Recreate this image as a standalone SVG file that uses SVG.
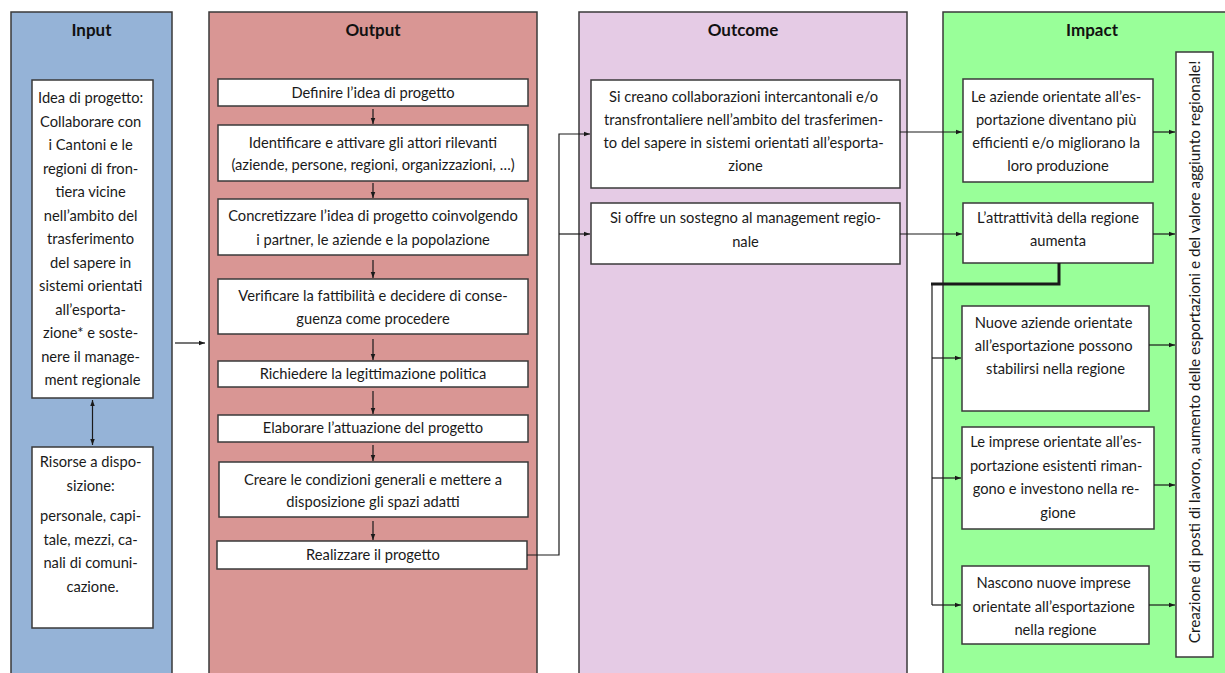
<svg xmlns="http://www.w3.org/2000/svg" width="1225" height="673" viewBox="0 0 1225 673">
  <style>
    .col { stroke: #3a3a3a; stroke-width: 1.5; }
    .box { fill: #ffffff; stroke: #3a3a3a; stroke-width: 1.5; }
    .t { font-family: Lato, "Liberation Sans", sans-serif; font-size: 14.7px; fill: #1a1a1a; text-anchor: middle; }
    .vt { font-size: 15.3px; }
    .title { font-family: Lato, "Liberation Sans", sans-serif; font-size: 17px; font-weight: bold; fill: #111111; text-anchor: middle; }
    .ln { fill: none; stroke: #1a1a1a; stroke-width: 1.2; }
    .thick { fill: none; stroke: #1a1a1a; stroke-width: 3; }
  </style>
  <defs>
    <marker id="ah" viewBox="0 0 8 8" refX="8" refY="4" markerWidth="6" markerHeight="6" markerUnits="userSpaceOnUse" orient="auto-start-reverse">
      <path d="M0,1 L8,4 L0,7 z" fill="#1a1a1a"/>
    </marker>
  </defs>

  <rect width="1225" height="673" fill="#ffffff"/>

  <!-- Column backgrounds -->
  <g id="col-input">
    <rect class="col" x="11" y="12" width="161" height="680" fill="#95b3d7"/>
    <text class="title" x="91.5" y="36">Input</text>
  </g>
  <g id="col-output">
    <rect class="col" x="209" y="12" width="328" height="680" fill="#d99694"/>
    <text class="title" x="373" y="36">Output</text>
  </g>
  <g id="col-outcome">
    <rect class="col" x="579" y="12" width="328" height="680" fill="#e5cbe5"/>
    <text class="title" x="743" y="36">Outcome</text>
  </g>
  <g id="col-impact">
    <rect class="col" x="943" y="12" width="300" height="680" fill="#99ff99"/>
    <text class="title" x="1092" y="36">Impact</text>
  </g>

  <!-- Input -->
  <g id="in-idea">
    <rect class="box" x="32" y="80" width="121" height="318"/>
    <text class="t">
      <tspan x="92.5" y="103">Idea di progetto:</tspan>
      <tspan x="92.5" y="126.5">Collaborare con</tspan>
      <tspan x="92.5" y="150">i Cantoni e le</tspan>
      <tspan x="92.5" y="173.5">regioni di fron-</tspan>
      <tspan x="92.5" y="197">tiera vicine</tspan>
      <tspan x="92.5" y="220.5">nell’ambito del</tspan>
      <tspan x="92.5" y="244">trasferimento</tspan>
      <tspan x="92.5" y="267.5">del sapere in</tspan>
      <tspan x="92.5" y="291">sistemi orientati</tspan>
      <tspan x="92.5" y="314.5">all’esporta-</tspan>
      <tspan x="92.5" y="338">zione* e soste-</tspan>
      <tspan x="92.5" y="361.5">nere il manage-</tspan>
      <tspan x="92.5" y="385">ment regionale</tspan>
    </text>
  </g>
  <g id="in-risorse">
    <rect class="box" x="32" y="447" width="121" height="181"/>
    <text class="t">
      <tspan x="92.5" y="467">Risorse a dispo-</tspan>
      <tspan x="92.5" y="490.5">sizione:</tspan>
      <tspan x="92.5" y="521">personale, capi-</tspan>
      <tspan x="92.5" y="544.5">tale, mezzi, ca-</tspan>
      <tspan x="92.5" y="568">nali di comuni-</tspan>
      <tspan x="92.5" y="591.5">cazione.</tspan>
    </text>
  </g>

  <!-- Output -->
  <g id="out-1">
    <rect class="box" x="218" y="79" width="310" height="27"/>
    <text class="t" x="373" y="97.5">Definire l’idea di progetto</text>
  </g>
  <g id="out-2">
    <rect class="box" x="218" y="125" width="310" height="56"/>
    <text class="t"><tspan x="373" y="148">Identificare e attivare gli attori rilevanti</tspan><tspan x="373" y="170">(aziende, persone, regioni, organizzazioni, …)</tspan></text>
  </g>
  <g id="out-3">
    <rect class="box" x="218" y="199" width="310" height="56"/>
    <text class="t"><tspan x="373" y="221">Concretizzare l’idea di progetto coinvolgendo</tspan><tspan x="373" y="245">i partner, le aziende e la popolazione</tspan></text>
  </g>
  <g id="out-4">
    <rect class="box" x="218" y="279" width="310" height="55"/>
    <text class="t"><tspan x="373" y="301">Verificare la fattibilità e decidere di conse-</tspan><tspan x="373" y="324">guenza come procedere</tspan></text>
  </g>
  <g id="out-5">
    <rect class="box" x="218" y="361" width="310" height="26"/>
    <text class="t" x="373" y="379">Richiedere la legittimazione politica</text>
  </g>
  <g id="out-6">
    <rect class="box" x="218" y="415" width="310" height="27"/>
    <text class="t" x="373" y="433">Elaborare l’attuazione del progetto</text>
  </g>
  <g id="out-7">
    <rect class="box" x="219" y="462" width="309" height="55"/>
    <text class="t"><tspan x="373" y="485">Creare le condizioni generali e mettere a</tspan><tspan x="373" y="507">disposizione gli spazi adatti</tspan></text>
  </g>
  <g id="out-8">
    <rect class="box" x="217" y="541" width="310" height="28"/>
    <text class="t" x="373" y="560">Realizzare il progetto</text>
  </g>

  <!-- Outcome -->
  <g id="oc-1">
    <rect class="box" x="591" y="80" width="309" height="108"/>
    <text class="t">
      <tspan x="745.5" y="102">Si creano collaborazioni intercantonali e/o</tspan>
      <tspan x="745.5" y="125">transfrontaliere nell’ambito del trasferimen-</tspan>
      <tspan x="745.5" y="148">to del sapere in sistemi orientati all’esporta-</tspan>
      <tspan x="745.5" y="171">zione</tspan>
    </text>
  </g>
  <g id="oc-2">
    <rect class="box" x="591" y="203" width="309" height="61"/>
    <text class="t"><tspan x="745.5" y="223">Si offre un sostegno al management regio-</tspan><tspan x="745.5" y="247">nale</tspan></text>
  </g>

  <!-- Impact -->
  <g id="im-1">
    <rect class="box" x="963" y="79" width="190" height="103"/>
    <text class="t">
      <tspan x="1058" y="102">Le aziende orientate all’es-</tspan>
      <tspan x="1058" y="125">portazione diventano più</tspan>
      <tspan x="1058" y="148">efficienti e/o migliorano la</tspan>
      <tspan x="1058" y="171">loro produzione</tspan>
    </text>
  </g>
  <g id="im-2">
    <rect class="box" x="963" y="203" width="190" height="60"/>
    <text class="t"><tspan x="1058" y="223">L’attrattività della regione</tspan><tspan x="1058" y="246">aumenta</tspan></text>
  </g>
  <g id="im-3">
    <rect class="box" x="962" y="306" width="187" height="105"/>
    <text class="t">
      <tspan x="1055.5" y="328">Nuove aziende orientate</tspan>
      <tspan x="1055.5" y="351">all’esportazione possono</tspan>
      <tspan x="1055.5" y="374">stabilirsi nella regione</tspan>
    </text>
  </g>
  <g id="im-4">
    <rect class="box" x="962" y="427" width="192" height="102"/>
    <text class="t">
      <tspan x="1058" y="447">Le imprese orientate all’es-</tspan>
      <tspan x="1058" y="470.5">portazione esistenti riman-</tspan>
      <tspan x="1058" y="494">gono e investono nella re-</tspan>
      <tspan x="1058" y="517.5">gione</tspan>
    </text>
  </g>
  <g id="im-5">
    <rect class="box" x="962" y="566" width="187" height="78"/>
    <text class="t">
      <tspan x="1055.5" y="588">Nascono nuove imprese</tspan>
      <tspan x="1055.5" y="611.5">orientate all’esportazione</tspan>
      <tspan x="1055.5" y="635">nella regione</tspan>
    </text>
  </g>
  <g id="im-result">
    <rect class="box" x="1176" y="52" width="37" height="605"/>
    <text class="t vt" transform="translate(1199.5,352) rotate(-90)" x="0" y="0">Creazione di posti di lavoro, aumento delle esportazioni e del valore aggiunto regionale!</text>
  </g>

  <!-- Connectors -->
  <g id="connectors">
    <!-- input -->
    <line class="ln" x1="92.5" y1="400" x2="92.5" y2="445" marker-start="url(#ah)" marker-end="url(#ah)"/>
    <line class="ln" x1="175" y1="343" x2="205" y2="343" marker-end="url(#ah)"/>
    <!-- output chain -->
    <line class="ln" x1="373" y1="109" x2="373" y2="124" marker-end="url(#ah)"/>
    <line class="ln" x1="373" y1="183" x2="373" y2="198" marker-end="url(#ah)"/>
    <line class="ln" x1="373" y1="260" x2="373" y2="278" marker-end="url(#ah)"/>
    <line class="ln" x1="373" y1="339" x2="373" y2="360" marker-end="url(#ah)"/>
    <line class="ln" x1="373" y1="391" x2="373" y2="414" marker-end="url(#ah)"/>
    <line class="ln" x1="373" y1="445" x2="373" y2="461" marker-end="url(#ah)"/>
    <line class="ln" x1="373" y1="521" x2="373" y2="540" marker-end="url(#ah)"/>
    <!-- output to outcome -->
    <polyline class="ln" points="527,555 559,555 559,134 590,134" marker-end="url(#ah)"/>
    <line class="ln" x1="559" y1="234" x2="590" y2="234" marker-end="url(#ah)"/>
    <!-- outcome to impact -->
    <line class="ln" x1="900" y1="132" x2="962" y2="132" marker-end="url(#ah)"/>
    <line class="ln" x1="900" y1="234" x2="962" y2="234" marker-end="url(#ah)"/>
    <!-- attractiveness branch -->
    <polyline class="thick" points="1059,263 1059,284 931,284"/>
    <line class="ln" x1="932" y1="283" x2="932" y2="605"/>
    <line class="ln" x1="932" y1="358" x2="961" y2="358" marker-end="url(#ah)"/>
    <line class="ln" x1="932" y1="478" x2="961" y2="478" marker-end="url(#ah)"/>
    <line class="ln" x1="932" y1="605" x2="961" y2="605" marker-end="url(#ah)"/>
    <!-- impact to result -->
    <line class="ln" x1="1153" y1="132" x2="1175" y2="132" marker-end="url(#ah)"/>
    <line class="ln" x1="1153" y1="234" x2="1175" y2="234" marker-end="url(#ah)"/>
    <line class="ln" x1="1149" y1="345" x2="1175" y2="345" marker-end="url(#ah)"/>
    <line class="ln" x1="1154" y1="485" x2="1175" y2="485" marker-end="url(#ah)"/>
    <line class="ln" x1="1149" y1="605" x2="1175" y2="605" marker-end="url(#ah)"/>
  </g>
</svg>
